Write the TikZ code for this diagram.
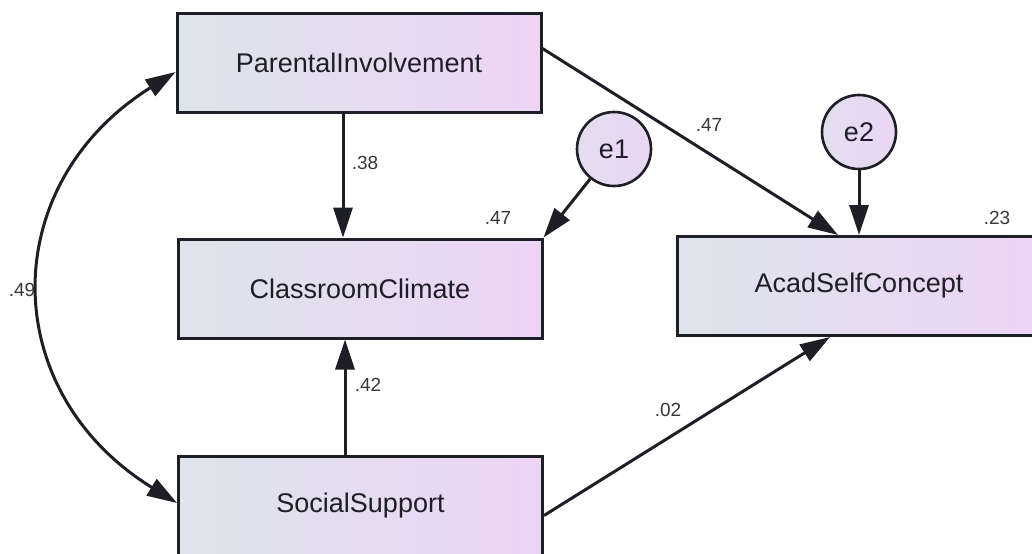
\documentclass[tikz,border=0pt]{standalone}
\usepackage{fontspec}
\setmainfont{Liberation Sans}
\usetikzlibrary{arrows.meta}
\definecolor{gl}{HTML}{DDE4EC}
\definecolor{gr}{HTML}{EDD4F5}
\definecolor{cl}{HTML}{E4DDF0}
\definecolor{cr}{HTML}{EBD6F3}
\definecolor{ink}{HTML}{1E1E26}
\begin{document}
\begin{tikzpicture}[x=0.5pt,y=-0.5pt,
  var/.style={draw=ink,line width=1.5pt,left color=gl,right color=gr,
    minimum width=182pt,minimum height=49.5pt,inner sep=0pt,
    font=\fontsize{13.5}{16}\selectfont,text=ink},
  err/.style={circle,draw=ink,line width=1.3pt,left color=cl,right color=cr,
    minimum size=37pt,inner sep=0pt,font=\fontsize{13.5}{16}\selectfont,text=ink},
  tip/.tip={Triangle[length=15pt,width=9.5pt]},
  regpath/.style={line width=1.5pt,draw=ink,-tip},
  covpath/.style={line width=1.5pt,draw=ink,tip-tip},
  coef/.style={font=\fontsize{9.5}{11}\selectfont,text=black!78,inner sep=0pt}]
\useasboundingbox (0,0) rectangle (1032,553);
\clip (0,0) rectangle (1032,553);
\fill[white] (0,0) rectangle (1032,553);
% boxes
\node[var] (pi) at (359,62.5) {ParentalInvolvement};
\node[var] (cc) at (360,288.5) {ClassroomClimate};
\node[var] (ss) at (360.5,505.5) {SocialSupport};
\node[var] (asc) at (859,286) {AcadSelfConcept};
% errors
\node[err] (e1) at (614,149) {e1};
\node[err] (e2) at (859,132) {e2};
% paths
\draw[regpath] ([xshift=-8pt]pi.south) -- ([xshift=-8.5pt]cc.north);
\draw[regpath] ([xshift=-7.75pt]ss.north) -- ([xshift=-7.5pt]cc.south);
\draw[regpath] (e1) -- (cc.north east);
\draw[regpath] (e2) -- (e2 |- asc.north);
\draw[regpath] ([yshift=7pt]pi.east) -- ([xshift=-10.5pt]asc.north);
\draw[regpath] ([yshift=-5pt]ss.east) -- ([xshift=-14.5pt]asc.south);
\draw[covpath] ([yshift=-4.75pt]pi.west) .. controls +(-179,112) and +(-181,-112) .. ([yshift=1.25pt]ss.west);
% coefficients
\node[coef] (c1) at (365,163) {.38};
\node[coef] (c2) at (498,218) {.47};
\node[coef] (c3) at (709,125) {.47};
\node[coef] (c4) at (997,218) {.23};
\node[coef] (c5) at (368,385) {.42};
\node[coef] (c6) at (668,410) {.02};
\node[coef] (c7) at (22,290) {.49};
\end{tikzpicture}
\end{document}
